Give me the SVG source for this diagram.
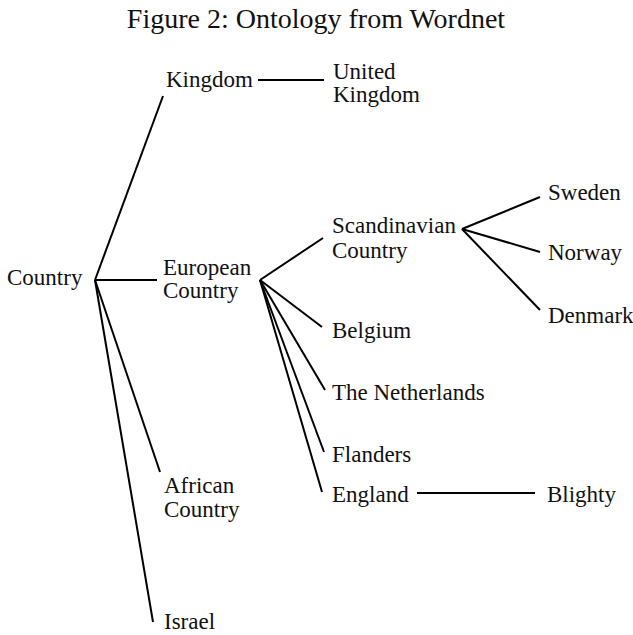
<svg xmlns="http://www.w3.org/2000/svg" width="633" height="635" viewBox="0 0 633 635">
<style>
text{font-family:"Liberation Serif","Times New Roman",serif;fill:#111;}
.lbl{font-size:23px;}
.title{font-size:28px;}
.edge{stroke:#000;stroke-width:2;fill:none;stroke-linecap:butt;}
</style>
<rect width="633" height="635" fill="#fff"/>
<text class="title" x="316" y="28" text-anchor="middle">Figure 2: Ontology from Wordnet</text>
<g id="connectors">
<line class="edge" x1="95" y1="280" x2="163" y2="96"/>
<line class="edge" x1="95" y1="280" x2="157" y2="280"/>
<line class="edge" x1="95" y1="280" x2="160" y2="472"/>
<line class="edge" x1="95" y1="280" x2="153" y2="622"/>
<line class="edge" x1="258" y1="80" x2="324" y2="80"/>
<line class="edge" x1="260" y1="280" x2="323" y2="238"/>
<line class="edge" x1="260" y1="280" x2="322" y2="327"/>
<line class="edge" x1="260" y1="280" x2="325" y2="390"/>
<line class="edge" x1="260" y1="280" x2="324" y2="452"/>
<line class="edge" x1="260" y1="280" x2="322" y2="492"/>
<line class="edge" x1="462" y1="229" x2="540" y2="197"/>
<line class="edge" x1="462" y1="229" x2="540" y2="252"/>
<line class="edge" x1="462" y1="229" x2="540" y2="310"/>
<line class="edge" x1="417" y1="493" x2="535" y2="493"/>
</g>
<g id="country"><text class="lbl" x="7" y="285">Country</text></g>
<g id="kingdom"><text class="lbl" x="166" y="87">Kingdom</text></g>
<g id="united-kingdom"><text class="lbl" x="333" y="79">United</text><text class="lbl" x="333" y="102">Kingdom</text></g>
<g id="european-country"><text class="lbl" x="163" y="275">European</text><text class="lbl" x="163" y="298">Country</text></g>
<g id="african-country"><text class="lbl" x="164" y="493">African</text><text class="lbl" x="164" y="517">Country</text></g>
<g id="israel"><text class="lbl" x="164" y="629">Israel</text></g>
<g id="scandinavian-country"><text class="lbl" x="332" y="233">Scandinavian</text><text class="lbl" x="332" y="258">Country</text></g>
<g id="belgium"><text class="lbl" x="332" y="338">Belgium</text></g>
<g id="netherlands"><text class="lbl" x="332" y="400">The Netherlands</text></g>
<g id="flanders"><text class="lbl" x="332" y="462">Flanders</text></g>
<g id="england"><text class="lbl" x="332" y="502">England</text></g>
<g id="blighty"><text class="lbl" x="547" y="502">Blighty</text></g>
<g id="sweden"><text class="lbl" x="548" y="200">Sweden</text></g>
<g id="norway"><text class="lbl" x="548" y="260">Norway</text></g>
<g id="denmark"><text class="lbl" x="548" y="323">Denmark</text></g>
</svg>
